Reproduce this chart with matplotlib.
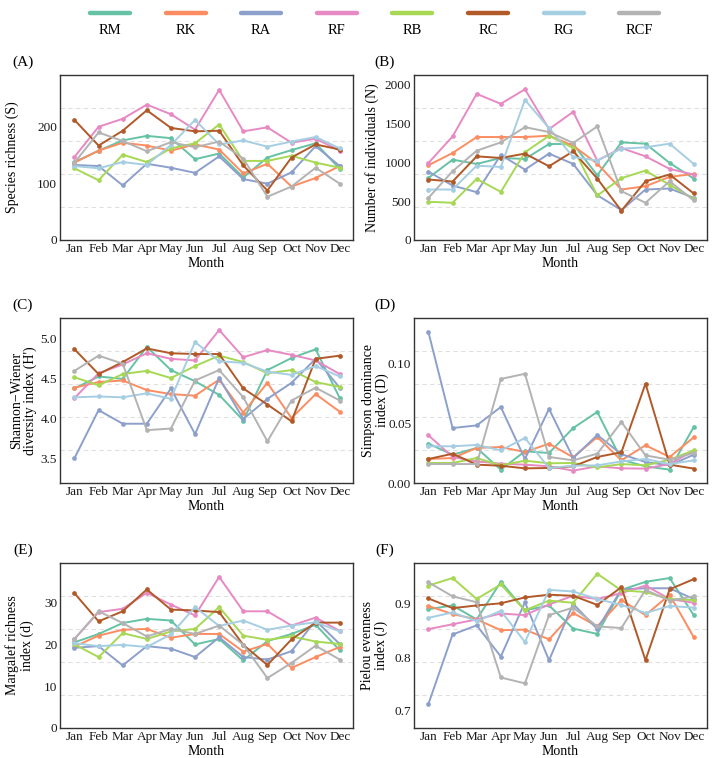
import matplotlib
matplotlib.use("Agg")
import matplotlib.pyplot as plt
from matplotlib.lines import Line2D

plt.rcParams['font.family'] = ['Liberation Serif', 'DejaVu Serif']

months = ["Jan", "Feb", "Mar", "Apr", "May", "Jun", "Jul", "Aug", "Sep", "Oct", "Nov", "Dec"]
sites = ["RM", "RK", "RA", "RF", "RB", "RC", "RG", "RCF"]
colors = ["#66c2a5", "#fc8d62", "#8da0cb", "#e78ac3", "#a6d854", "#b15928", "#a6cee3", "#b3b3b3"]

# (A) Species richness (S)
richness = {
    "RM":  [137, 157, 175, 183, 179, 142, 152, 110, 145, 158, 170, 125],
    "RK":  [136, 157, 171, 166, 157, 168, 159, 117, 134, 94, 109, 130],
    "RA":  [132, 130, 96, 134, 127, 118, 147, 107, 99, 119, 165, 130],
    "RF":  [146, 199, 213, 238, 221, 194, 264, 191, 198, 171, 178, 157],
    "RB":  [126, 105, 150, 137, 161, 170, 203, 139, 139, 148, 136, 127],
    "RC":  [211, 166, 192, 228, 197, 191, 192, 131, 87, 145, 168, 159],
    "RG":  [130, 126, 137, 132, 167, 211, 168, 175, 164, 173, 181, 161],
    "RCF": [136, 189, 174, 156, 172, 163, 173, 143, 76, 94, 127, 99],
}
# (B) Number of individuals (N)
individuals = {
    "RM":  [801, 1036, 981, 1058, 1045, 1238, 1238, 835, 1259, 1242, 994, 792],
    "RK":  [964, 1122, 1328, 1328, 1328, 1345, 1216, 985, 651, 694, 814, 852],
    "RA":  [882, 702, 617, 1096, 908, 1114, 981, 578, 385, 651, 664, 544],
    "RF":  [994, 1336, 1885, 1756, 1944, 1430, 1653, 1024, 1186, 1079, 917, 844],
    "RB":  [493, 480, 788, 621, 1131, 1345, 1186, 574, 797, 895, 711, 531],
    "RC":  [780, 754, 1079, 1058, 1114, 951, 1144, 792, 377, 758, 844, 600],
    "RG":  [651, 651, 959, 942, 1807, 1443, 1071, 1024, 1178, 1195, 1242, 981],
    "RCF": [544, 887, 1152, 1259, 1456, 1392, 1251, 1465, 630, 480, 758, 510],
}
# (C) Shannon-Wiener diversity index (H')
shannon = {
    "RM":  [4.37, 4.52, 4.49, 4.89, 4.60, 4.46, 4.29, 3.97, 4.60, 4.75, 4.86, 4.25],
    "RK":  [4.38, 4.45, 4.47, 4.35, 4.30, 4.28, 4.48, 4.07, 4.44, 4.00, 4.30, 4.08],
    "RA":  [3.50, 4.10, 3.93, 3.93, 4.37, 3.80, 4.50, 3.99, 4.24, 4.44, 4.74, 4.38],
    "RF":  [4.25, 4.56, 4.67, 4.81, 4.74, 4.72, 5.10, 4.76, 4.85, 4.79, 4.72, 4.55],
    "RB":  [4.51, 4.41, 4.55, 4.59, 4.50, 4.65, 4.78, 4.70, 4.56, 4.60, 4.45, 4.39],
    "RC":  [4.86, 4.55, 4.70, 4.87, 4.81, 4.80, 4.80, 4.37, 4.17, 3.96, 4.74, 4.78],
    "RG":  [4.26, 4.27, 4.26, 4.31, 4.24, 4.95, 4.71, 4.69, 4.58, 4.54, 4.65, 4.52],
    "RCF": [4.59, 4.78, 4.68, 3.85, 3.87, 4.47, 4.60, 4.26, 3.71, 4.22, 4.38, 4.22],
}
# (D) Simpson dominance index (D)
simpson = {
    "RM":  [0.0328, 0.0236, 0.0292, 0.0111, 0.0264, 0.0250, 0.0458, 0.0592, 0.0194, 0.0139, 0.0111, 0.0467],
    "RK":  [0.0200, 0.0208, 0.0292, 0.0300, 0.0258, 0.0328, 0.0214, 0.0383, 0.0189, 0.0314, 0.0217, 0.0380],
    "RA":  [0.1256, 0.0458, 0.0480, 0.0633, 0.0200, 0.0617, 0.0208, 0.0400, 0.0240, 0.0175, 0.0147, 0.0236],
    "RF":  [0.0397, 0.0217, 0.0180, 0.0161, 0.0153, 0.0139, 0.0103, 0.0139, 0.0122, 0.0120, 0.0158, 0.0270],
    "RB":  [0.0167, 0.0167, 0.0208, 0.0147, 0.0186, 0.0164, 0.0167, 0.0130, 0.0158, 0.0147, 0.0194, 0.0272],
    "RC":  [0.0200, 0.0244, 0.0153, 0.0144, 0.0122, 0.0125, 0.0139, 0.0217, 0.0256, 0.0828, 0.0153, 0.0120],
    "RG":  [0.0306, 0.0306, 0.0317, 0.0272, 0.0375, 0.0125, 0.0144, 0.0147, 0.0180, 0.0200, 0.0158, 0.0189],
    "RCF": [0.0158, 0.0158, 0.0158, 0.0867, 0.0910, 0.0217, 0.0189, 0.0244, 0.0508, 0.0230, 0.0194, 0.0250],
}
# (E) Margalef richness index (d)
margalef = {
    "RM":  [20.4, 22.4, 25.0, 26.0, 25.6, 19.9, 21.2, 16.1, 20.7, 22.4, 24.6, 18.5],
    "RK":  [19.4, 22.0, 23.4, 23.6, 21.5, 22.4, 22.4, 18.2, 20.0, 14.3, 16.9, 19.3],
    "RA":  [19.1, 19.5, 14.9, 19.5, 18.9, 16.9, 21.6, 16.9, 16.3, 18.3, 25.6, 20.0],
    "RF":  [21.2, 27.6, 28.4, 32.2, 29.4, 26.8, 36.0, 27.8, 27.8, 24.4, 26.3, 23.1],
    "RB":  [19.9, 16.9, 22.6, 21.2, 23.0, 23.6, 28.8, 22.0, 21.0, 21.8, 20.6, 20.0],
    "RC":  [32.1, 25.4, 27.8, 33.0, 28.2, 28.0, 27.6, 19.8, 15.0, 21.1, 25.1, 25.1],
    "RG":  [20.2, 19.5, 19.8, 19.3, 22.3, 28.8, 24.3, 25.6, 23.4, 24.4, 25.2, 23.0],
    "RCF": [21.2, 27.8, 25.0, 21.8, 23.6, 22.4, 24.4, 19.8, 11.9, 15.5, 19.6, 16.3],
}
# (F) Pielou evenness index (J)
pielou = {
    "RM":  [0.889, 0.896, 0.870, 0.940, 0.887, 0.896, 0.853, 0.843, 0.925, 0.940, 0.947, 0.878],
    "RK":  [0.895, 0.880, 0.870, 0.850, 0.851, 0.833, 0.882, 0.857, 0.906, 0.878, 0.916, 0.837],
    "RA":  [0.713, 0.842, 0.859, 0.801, 0.902, 0.794, 0.899, 0.852, 0.926, 0.928, 0.928, 0.908],
    "RF":  [0.852, 0.861, 0.870, 0.881, 0.878, 0.898, 0.914, 0.908, 0.919, 0.933, 0.908, 0.901],
    "RB":  [0.933, 0.947, 0.908, 0.935, 0.887, 0.905, 0.901, 0.955, 0.924, 0.921, 0.908, 0.906],
    "RC":  [0.909, 0.891, 0.896, 0.900, 0.911, 0.916, 0.914, 0.897, 0.930, 0.794, 0.926, 0.945],
    "RG":  [0.873, 0.883, 0.867, 0.886, 0.828, 0.925, 0.922, 0.908, 0.897, 0.882, 0.895, 0.892],
    "RCF": [0.939, 0.913, 0.902, 0.762, 0.751, 0.878, 0.892, 0.857, 0.854, 0.925, 0.905, 0.913],
}

panels = [
    ("(A)", richness, "Species richness (S)", [0, 100, 200], ["0", "100", "200"], (0, 290), -0.14),
    ("(B)", individuals, "Number of individuals (N)", [0, 500, 1000, 1500, 2000],
     ["0", "500", "1000", "1500", "2000"], (0, 2128), -0.12),
    ("(C)", shannon, "Shannon\u2212Wiener\ndiversity index (H')", [3.5, 4.0, 4.5, 5.0],
     ["3.5", "4.0", "4.5", "5.0"], (3.19, 5.25), -0.078),
    ("(D)", simpson, "Simpson dominance\nindex (D)", [0.0, 0.05, 0.10],
     ["0.00", "0.05", "0.10"], (0, 0.1375), -0.085),
    ("(E)", margalef, "Margalef richness\nindex (d)", [0, 10, 20, 30],
     ["0", "10", "20", "30"], (0, 39.3), -0.09),
    ("(F)", pielou, "Pielou evenness\nindex (J)", [0.7, 0.8, 0.9],
     ["0.7", "0.8", "0.9"], (0.668, 0.975), -0.088),
]

W, H = 714, 758
fig = plt.figure(figsize=(W / 100, H / 100), dpi=100)

lefts = [60, 414]
tops = [75, 318, 563]
aw, ah = 293, 165

xvals = list(range(1, 13))

for i, (tag, data, ylabel, yt, ytl, ylim, lx) in enumerate(panels):
    r, c = divmod(i, 2)
    l, t = lefts[c], tops[r]
    ax = fig.add_axes([l / W, 1 - (t + ah) / H, aw / W, ah / H])
    ax.set_ylim(*ylim)
    ax.set_xlim(0.4, 12.55)
    y0, y1 = ylim
    for f in (0.2, 0.4, 0.6, 0.8):
        ax.axhline(y0 + f * (y1 - y0), color="#e0e0e0", lw=0.8, ls=(0, (4, 3)), zorder=0)
    for s, col in zip(sites, colors):
        ax.plot(xvals, data[s], color=col, lw=1.4, marker="o", ms=3.4,
                markeredgewidth=0, zorder=2)
    ax.set_xticks(xvals)
    ax.set_xticklabels(months)
    ax.set_yticks(yt)
    ax.set_yticklabels(ytl)
    ax.tick_params(axis="both", length=0, labelsize=9.5, colors="#1a1a1a")
    ax.tick_params(axis="x", pad=2)
    ax.tick_params(axis="y", pad=2)
    for sp in ax.spines.values():
        sp.set_color("#333333")
        sp.set_linewidth(1.0)
    ax.set_xlabel("Month", fontsize=10)
    ax.xaxis.set_label_coords(0.5, -0.105)
    ax.set_ylabel(ylabel, fontsize=10, linespacing=1.1)
    ax.yaxis.set_label_coords(lx, 0.5)
    fig.text((l - 37 if c == 0 else l - 29) / W, 1 - (t - 13) / H, tag,
             fontsize=11, ha="center", va="center")

# legend at top: line above, label below
x0, dx = 110, 75.6
for k, (s, col) in enumerate(zip(sites, colors)):
    cx = x0 + k * dx
    fig.add_artist(Line2D([(cx - 20) / W, (cx + 20) / W], [1 - 13 / H, 1 - 13 / H],
                          color=col, lw=3.2, solid_capstyle="round"))
    fig.text(cx / W, 1 - 31 / H, s, fontsize=10.5, ha="center", va="center")

fig.savefig("out.png", dpi=100)
